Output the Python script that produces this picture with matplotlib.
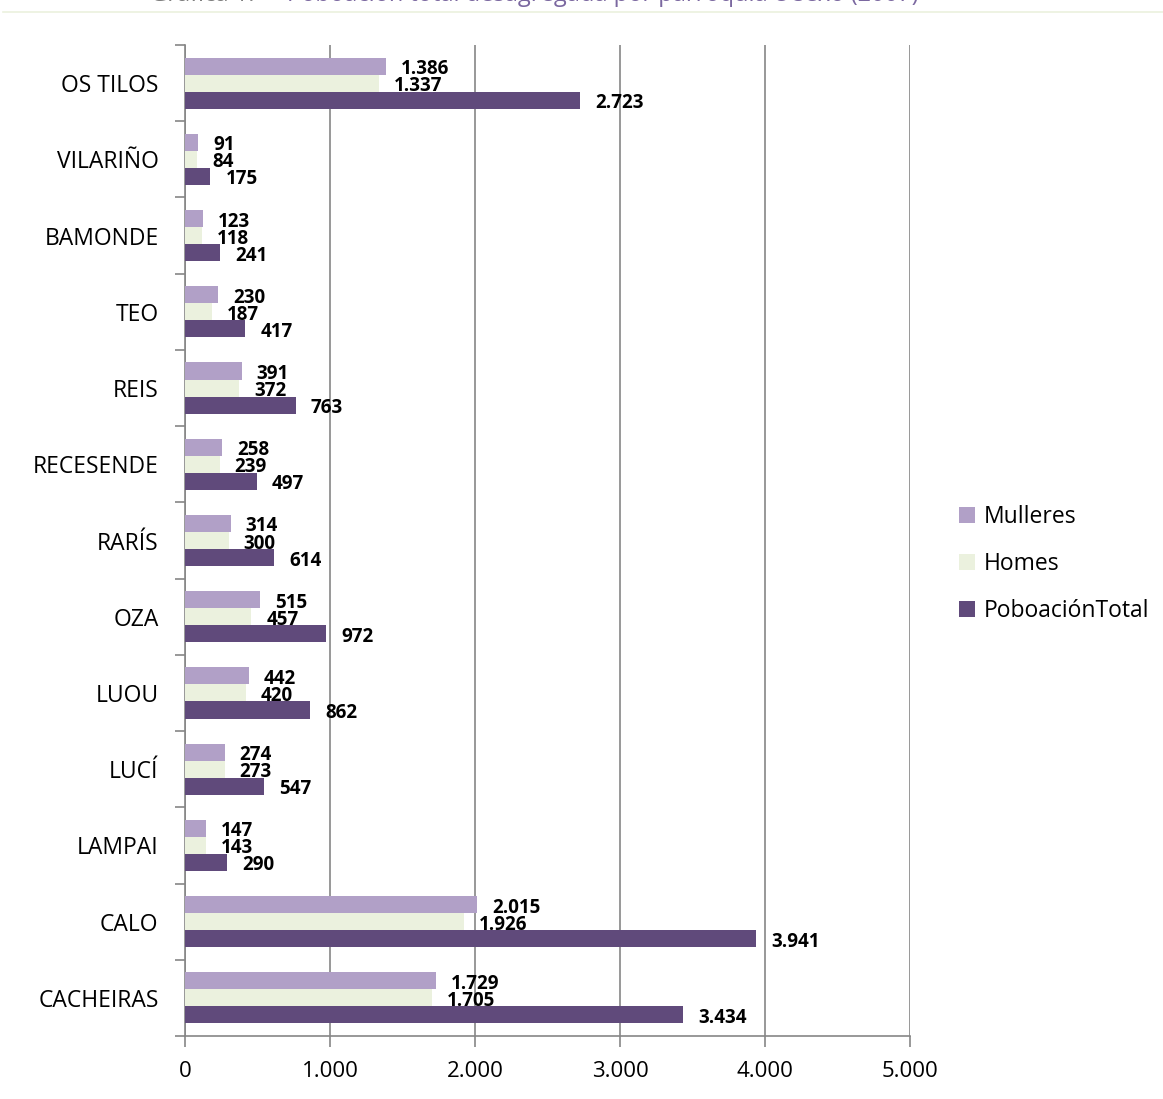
import matplotlib
matplotlib.use("Agg")
import matplotlib.pyplot as plt
from matplotlib.lines import Line2D
from matplotlib.patches import Patch
import numpy as np

plt.rcParams['font.family'] = ['Open Sans', 'DejaVu Sans']

# Population by parish and sex
parishes = ["OS TILOS", "VILARIÑO", "BAMONDE", "TEO", "REIS", "RECESENDE",
            "RARÍS", "OZA", "LUOU", "LUCÍ", "LAMPAI", "CALO", "CACHEIRAS"]
mulleres = [1386, 91, 123, 230, 391, 258, 314, 515, 442, 274, 147, 2015, 1729]
homes = [1337, 84, 118, 187, 372, 239, 300, 457, 420, 273, 143, 1926, 1705]
total = [2723, 175, 241, 417, 763, 497, 614, 972, 862, 547, 290, 3941, 3434]

series_names = ["Mulleres", "Homes", "PoboaciónTotal"]
colors = ["#B1A0C7", "#EBF1DE", "#604A7B"]
x_ticks = [0, 1000, 2000, 3000, 4000, 5000]

def fmt(v):
    return f"{v:,}".replace(",", ".")

W, H = 1163, 1099
fig = plt.figure(figsize=(W / 100, H / 100), dpi=100)
ax = fig.add_axes([185 / W, 1 - 1036 / H, (910 - 185) / W, (1036 - 45) / H])

y = np.arange(len(parishes))
bh = 0.224
for k, (vals, col) in enumerate(zip([mulleres, homes, total], colors)):
    pos = y + (k - 1) * bh
    ax.barh(pos, vals, height=bh, color=col, zorder=3)
    for p, v in zip(pos, vals):
        ax.annotate(fmt(v), xy=(v, p), xytext=(15, -3), textcoords='offset pixels',
                    ha='left', va='center', fontsize=13.5, fontweight='bold',
                    color='black', zorder=4)

ax.set_xlim(0, 5000)
ax.set_ylim(len(parishes) - 0.5, -0.5)
ax.set_xticks(x_ticks)
ax.set_xticklabels([fmt(t) for t in x_ticks], fontsize=16)
ax.xaxis.grid(True, color="#868686", linewidth=1.2, zorder=0)
ax.set_axisbelow(True)

ax.set_yticks(np.arange(len(parishes) + 1) - 0.5)
ax.set_yticklabels([])
ax.set_yticks(y, minor=True)
ax.set_yticklabels(parishes, minor=True, fontsize=16.5)
ax.tick_params(axis='y', which='minor', length=0, pad=19)
ax.tick_params(axis='y', which='major', length=7, color="#868686", width=1.2)
ax.tick_params(axis='x', length=8, color="#868686", width=1.2, pad=10)

for side in ['top', 'right']:
    ax.spines[side].set_visible(False)
for side in ['left', 'bottom']:
    ax.spines[side].set_color("#868686")
    ax.spines[side].set_linewidth(1.2)

handles = [Patch(facecolor=c, edgecolor='none') for c in colors]
fig.legend(handles, series_names, loc='center left',
           bbox_to_anchor=(938 / W, 1 - 564 / H), frameon=False,
           fontsize=16.5, handlelength=0.7, handleheight=0.7,
           handletextpad=0.4, labelspacing=1.02)

# Title strip at the top edge
fig.text(150 / W, 1 - 1 / H, "Gráfica 1:", color="#7F7F7F", fontsize=17,
         ha='left', va='baseline')
fig.text(287 / W, 1 - 1 / H, "Poboación total desagregada por parroquia e sexo (2007)",
         color="#7B68A0", fontsize=17, ha='left', va='baseline')
fig.add_artist(Line2D([3 / W, 1], [1 - 12 / H, 1 - 12 / H], color="#EBF1DE",
                      linewidth=1.2, transform=fig.transFigure))

fig.savefig("out.png", dpi=100)
